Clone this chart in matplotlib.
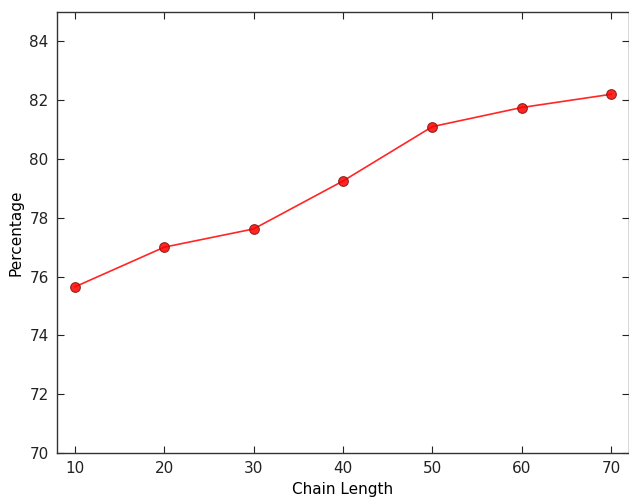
import matplotlib
matplotlib.use("Agg")
from matplotlib import pyplot as plt

# chain length vs percentage
chain_length = [10, 20, 30, 40, 50, 60, 70]
percentage = [75.65, 77.0, 77.62, 79.25, 81.1, 81.75, 82.2]

fig = plt.figure(figsize=(6.29, 4.98), dpi=100)
ax = fig.add_axes([0.0906, 0.0904, 0.9094, 0.8856])

ax.plot(chain_length, percentage, color="red", linewidth=1.2, alpha=0.85,
        marker="o", markersize=7, markerfacecolor="red", markeredgecolor="#7a1a10",
        markeredgewidth=0.8)

ax.set_xlim(8, 72)
ax.set_ylim(70, 85)
ax.set_xticks(chain_length)
ax.set_yticks(range(70, 85, 2))

ax.tick_params(direction="in", length=5, top=True, right=True, labelsize=11,
               colors="#222222", pad=6)
for s in ax.spines.values():
    s.set_color("#333333")
    s.set_linewidth(1.0)

ax.set_xlabel("Chain Length", fontsize=11, labelpad=4)
ax.set_ylabel("Percentage", fontsize=11, labelpad=4)

fig.savefig("out.png", dpi=100)
